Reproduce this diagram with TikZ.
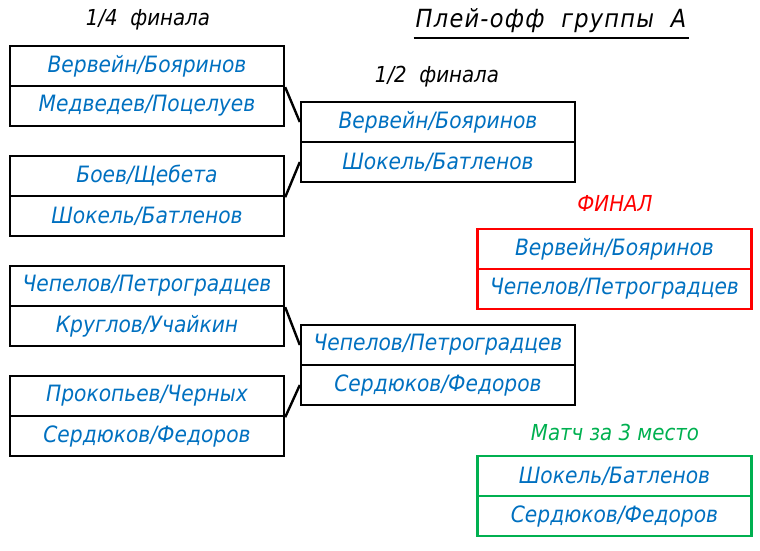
\documentclass[tikz,border=0pt]{standalone}
\usepackage{fontspec}
\setmainfont{DejaVu Sans Condensed}
\newfontfamily\titlefont[LetterSpace=5]{DejaVu Sans Condensed}
\usepackage{tikz}
\usepackage{xcolor}
\usetikzlibrary{positioning}

\definecolor{teamblue}{HTML}{0070C0}
\definecolor{finalred}{HTML}{FF0000}
\definecolor{thirdgreen}{HTML}{00B050}

\begin{document}
\begin{tikzpicture}[x=1pt, y=-1pt,
                cell/.style={draw, rectangle, line width=2.4pt, minimum width=274pt, minimum height=40pt, inner sep=0pt, text centered, text=teamblue, font=\fontsize{22.5}{24}\selectfont\itshape},
                stage/.style={font=\fontsize{22}{24}\selectfont\itshape},
                line/.style={draw, -, line width=2.4pt}
            ]
            \useasboundingbox (0,0) rectangle (760,550);

            % Titles
            \node[stage] (quarter) at (148,20) {1/4\ \ финала};
            \node[stage] (semi) at (437,77) {1/2\ \ финала};
            \node[font=\titlefont\fontsize{25}{28}\selectfont\itshape, inner sep=2pt] (title) at (551,21) {Плей-офф\ \ группы\ \ А};
            \draw[line width=2pt] (title.west |- 0,38) coordinate (ul) -- (ul -| title.east);
            \node[stage, text=finalred] (finalhead) at (615,203) {ФИНАЛ};
            \node[stage, text=thirdgreen] (thirdhead) at (615,432) {Матч за 3 место};

            % Quarter finals
            \node[cell] (q1a) at (147,66) {Вервейн/Бояринов};
            \node[cell] (q1b) at (147,106) {Медведев/Поцелуев};
            \node[cell] (q2a) at (147,176) {Боев/Щебета};
            \node[cell] (q2b) at (147,216) {Шокель/Батленов};
            \node[cell] (q3a) at (147,286) {Чепелов/Петроградцев};
            \node[cell] (q3b) at (147,326) {Круглов/Учайкин};
            \node[cell] (q4a) at (147,396) {Прокопьев/Черных};
            \node[cell] (q4b) at (147,436) {Сердюков/Федоров};

            % Semi finals
            \node[cell] (s1a) at (438,122) {Вервейн/Бояринов};
            \node[cell] (s1b) at (438,162) {Шокель/Батленов};
            \node[cell] (s2a) at (438,345) {Чепелов/Петроградцев};
            \node[cell] (s2b) at (438,385) {Сердюков/Федоров};

            % Final and third place
            \node[cell, draw=finalred] (f1) at (614.5,249) {Вервейн/Бояринов};
            \node[cell, draw=finalred] (f2) at (614.5,289) {Чепелов/Петроградцев};
            \node[cell, draw=thirdgreen] (t1) at (614.5,476) {Шокель/Батленов};
            \node[cell, draw=thirdgreen] (t2) at (614.5,516) {Сердюков/Федоров};

            % Connections
            \draw[line] (q1a.south east) -- (s1a.west);
            \draw[line] (q2a.south east) -- (s1b.west);
            \draw[line] (q3a.south east) -- (s2a.west);
            \draw[line] (q4a.south east) -- (s2b.west);
        \end{tikzpicture}
\end{document}
